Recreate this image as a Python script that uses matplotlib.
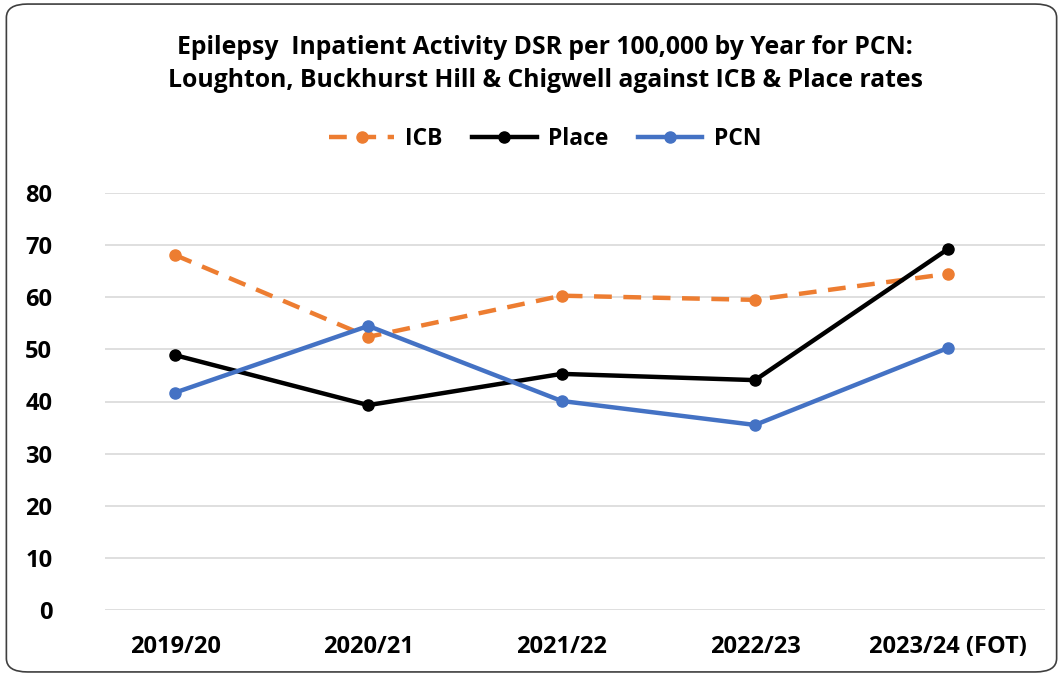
import matplotlib
matplotlib.use("Agg")
import matplotlib.pyplot as plt
from matplotlib.patches import FancyBboxPatch

years = ["2019/20", "2020/21", "2021/22", "2022/23", "2023/24 (FOT)"]
icb = [68.1, 52.4, 60.3, 59.5, 64.5]
place = [48.9, 39.3, 45.3, 44.1, 69.3]
pcn = [41.7, 54.5, 40.1, 35.5, 50.3]

plt.rcParams["font.family"] = ["Open Sans", "DejaVu Sans"]

fig = plt.figure(figsize=(10.63, 6.76), dpi=100)
fig.patches.append(FancyBboxPatch((0.006, 0.006), 0.988, 0.988,
                                  boxstyle="round,pad=0,rounding_size=0.02",
                                  transform=fig.transFigure, fill=False,
                                  edgecolor="#3f3f3f", linewidth=1.2))

ax = fig.add_axes([105 / 1063, 1 - 610 / 676, 940 / 1063, 417 / 676])
x = list(range(len(years)))

ax.plot(x, icb, color="#ed7d31", lw=3.2, ls=(0, (4, 2.6)), marker="o", ms=8,
        label="ICB", clip_on=False)
ax.plot(x, place, color="#000000", lw=3.2, marker="o", ms=8,
        label="Place", clip_on=False)
ax.plot(x, pcn, color="#4472c4", lw=3.2, marker="o", ms=8,
        label="PCN", clip_on=False)

ax.set_ylim(0, 80)
ax.set_yticks(range(0, 81, 10))
ax.set_xlim(-0.362, 4.5)
ax.set_xticks(x)
ax.set_xticklabels(years)
ax.grid(axis="y", color="#d9d9d9", lw=1.2)
ax.set_axisbelow(True)
for s in ax.spines.values():
    s.set_visible(False)
ax.tick_params(length=0, labelsize=17, pad=18)
for lab in ax.get_xticklabels() + ax.get_yticklabels():
    lab.set_fontweight("bold")
ax.tick_params(axis="y", pad=38)
for lab in ax.get_yticklabels():
    lab.set_horizontalalignment("right")

fig.text(0.513, 1 - 64 / 676,
         "Epilepsy  Inpatient Activity DSR per 100,000 by Year for PCN:\n"
         "Loughton, Buckhurst Hill & Chigwell against ICB & Place rates",
         ha="center", va="center", fontsize=17.8, fontweight="bold",
         linespacing=1.4)

leg = fig.legend(loc="center", bbox_to_anchor=(0.513, 1 - 139 / 676), ncol=3,
                 frameon=False, prop={"size": 16.5, "weight": "bold"},
                 handlelength=2.8, columnspacing=1.3, handletextpad=0.5)

fig.savefig("out.png", dpi=100)
